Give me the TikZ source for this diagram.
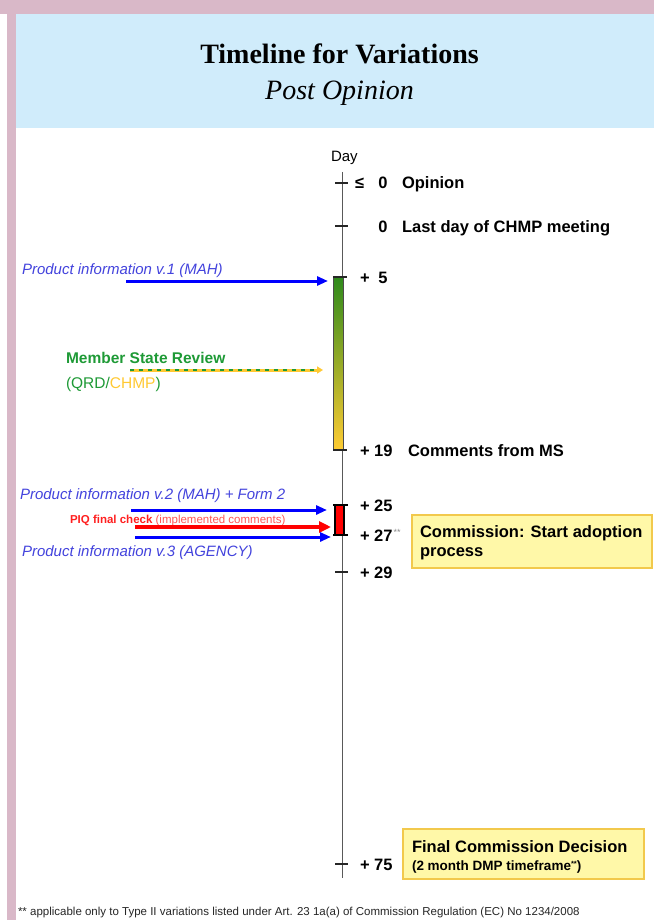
\documentclass[tikz,border=0pt]{standalone}
\usepackage{fontspec}
\setmainfont{Liberation Sans}
\newfontfamily\titlefont{Liberation Serif}
\usetikzlibrary{arrows.meta}
\definecolor{pinkframe}{HTML}{D9B8C8}
\definecolor{headerblue}{HTML}{D0ECFB}
\definecolor{lblblue}{HTML}{4343DD}
\definecolor{msgreen}{HTML}{1E9A36}
\definecolor{msyellow}{HTML}{FFC933}
\definecolor{bargreen}{HTML}{2F8A1C}
\definecolor{baryellow}{HTML}{FFCC33}
\definecolor{boxfill}{HTML}{FFF8A8}
\definecolor{boxborder}{HTML}{F2C94C}
\definecolor{piqred}{HTML}{FF2020}
\definecolor{piqlight}{HTML}{FF5555}
\begin{document}
\begin{tikzpicture}[x=1pt,y=-1pt,
  every node/.style={inner sep=0pt, outer sep=0pt},
  numlbl/.style={font=\fontsize{16.5}{19}\selectfont\bfseries, anchor=base west},
  numend/.style={font=\fontsize{16.5}{19}\selectfont\bfseries, anchor=base east},
  leftlbl/.style={font=\fontsize{15}{18}\selectfont\itshape, text=lblblue, anchor=base west},
  tickmark/.style={line width=1.1pt, black!85},
  tl/.style={line width=1pt, black!65},
  bluearrow/.style={line width=3pt, blue, -{Triangle[length=11pt,width=9pt]}},
  redarrow/.style={line width=4pt, red, -{Triangle[length=12pt,width=11pt]}},
  infobox/.style={draw=boxborder, fill=boxfill, line width=1.2pt, anchor=north west}
]
\useasboundingbox (0,0) rectangle (654,920);
\fill[white] (0,0) rectangle (654,920);
% frame and header
\fill[pinkframe] (0,0) rectangle (654,14);
\fill[pinkframe] (7,0) rectangle (16,920);
\fill[headerblue] (16,14) rectangle (654,128);
\node[font=\titlefont\fontsize{28}{32}\selectfont\bfseries, anchor=base] (title) at (339.5,64) {Timeline for Variations};
\node[font=\titlefont\fontsize{28}{32}\selectfont\itshape, anchor=base] (subtitle) at (339.5,100) {Post Opinion};

% timeline
\coordinate (tltop) at (342,172);
\coordinate (tlbot) at (342,878);
\draw[tl] (tltop) -- (tlbot);
\node[font=\fontsize{15}{18}\selectfont, anchor=base west] (day) at (331,162) {Day};

% ticks
\foreach \n/\y in {t0/183, t1/226, t29/572, t75/864}{
  \coordinate (\n l) at (335,\y);
  \coordinate (\n r) at (348,\y);
  \draw[tickmark] (\n l) -- (\n r);
}

% green gradient bar (+5 to +19)
\coordinate (gtop) at (333,277);
\coordinate (gbot) at (343,450);
\shade[top color=bargreen, bottom color=baryellow] (gtop) rectangle (gbot);
\draw[line width=0.8pt, black!70] (gtop) rectangle (gbot);
\coordinate (t5r) at (347,277);
\coordinate (t19l) at (333,450);
\coordinate (t19r) at (347,450);
\draw[tickmark] (gtop) -- (t5r);
\draw[tickmark] (t19l) -- (t19r);

% red bar (+25 to +27)
\coordinate (rtop) at (335,505);
\coordinate (rbot) at (344,535);
\fill[red] (rtop) rectangle (rbot);
\draw[line width=1.2pt, black] (rtop) rectangle (rbot);
\coordinate (t25l) at (333,505);
\coordinate (t25r) at (348,505);
\coordinate (t27l) at (333,535);
\coordinate (t27r) at (348,535);
\draw[line width=1.4pt] (t25l) -- (t25r);
\draw[line width=1.4pt] (t27l) -- (t27r);

% day labels
\node[font=\fontsize{16.5}{19}\selectfont\bfseries, anchor=base west] (le) at (355,189) {≤};
\node[numend] (n0a) at (387.5,189) {0};
\node[numlbl] (opinion) at (402,189) {Opinion};
\node[numend] (n0b) at (387.5,232) {0};
\node[numlbl] (lastday) at (402,232) {Last day of CHMP meeting};
\node[numlbl] (n5) at (360,283) {+};
\node[numend] (n5b) at (387.5,283) {5};
\node[numlbl] (n19) at (360,456) {+ 19};
\node[numlbl] (comments) at (408,456) {Comments from MS};
\node[numlbl] (n25) at (360,511) {+ 25};
\node[numlbl] (n27) at (360,541) {+ 27};
\node[font=\fontsize{9}{10}\selectfont, text=black!45, anchor=base west] (n27star) at (393.5,535) {**};
\node[numlbl] (n29) at (360,578) {+ 29};
\node[numlbl] (n75) at (360,870) {+ 75};

% commission boxes
\node[infobox, minimum width=240pt, minimum height=53pt] (commbox) at (412,515) {};
\node[numlbl] (comm1) at (420,537) {Commission: Start adoption};
\node[numlbl] (comm2) at (420,556) {process};
\node[infobox, minimum width=241pt, minimum height=50pt] (finalbox) at (403,829) {};
\node[numlbl] (final1) at (412,852) {Final Commission Decision};
\node[font=\fontsize{13.5}{16}\selectfont\bfseries, anchor=base west] (final2) at (412,870) {(2 month DMP timeframe\raisebox{3.5pt}{\fontsize{7.5}{8}\selectfont **})};

% product information v.1
\node[leftlbl] (pi1) at (22,274) {Product information v.1 (MAH)};
\coordinate (a1s) at (126,281);
\coordinate (a1e) at (328,281);
\draw[bluearrow] (a1s) -- (a1e);

% member state review
\node[font=\fontsize{15.5}{18}\selectfont\bfseries, text=msgreen, anchor=base west] (msr) at (66,363) {Member State Review};
\node[font=\fontsize{15.5}{18}\selectfont, text=msgreen, anchor=base west] (qrd) at (66,388) {(QRD/\textcolor{msyellow}{CHMP})};
\coordinate (ms1) at (130,370);
\coordinate (ms2) at (323,370);
\coordinate (ms3) at (317,370);
\draw[line width=3pt, msyellow, -{Triangle[length=6pt,width=7pt]}] (ms1) -- (ms2);
\draw[line width=2.4pt, msgreen, dash pattern=on 4pt off 5pt] (ms1) -- (ms3);

% product information v.2 / PIQ / v.3
\node[leftlbl] (pi2) at (20,499) {Product information v.2 (MAH) + Form 2};
\coordinate (a2s) at (131,510);
\coordinate (a2e) at (327,510);
\draw[bluearrow] (a2s) -- (a2e);
\node[font=\fontsize{11.5}{13}\selectfont, anchor=base west] (piq) at (70,523) {\textcolor{piqred}{\bfseries PIQ final check} \textcolor{piqlight}{(implemented comments)}};
\coordinate (a3s) at (135,527);
\coordinate (a3e) at (331,527);
\draw[redarrow] (a3s) -- (a3e);
\coordinate (a4s) at (135,537);
\coordinate (a4e) at (331,537);
\draw[bluearrow] (a4s) -- (a4e);
\node[leftlbl] (pi3) at (22,556) {Product information v.3 (AGENCY)};

% footnote
\node[font=\fontsize{11.5}{13}\selectfont, text=black!85, anchor=base west] (foot) at (18,915) {** applicable only to Type II variations listed under Art. 23 1a(a) of Commission Regulation (EC) No 1234/2008};
\end{tikzpicture}
\end{document}
